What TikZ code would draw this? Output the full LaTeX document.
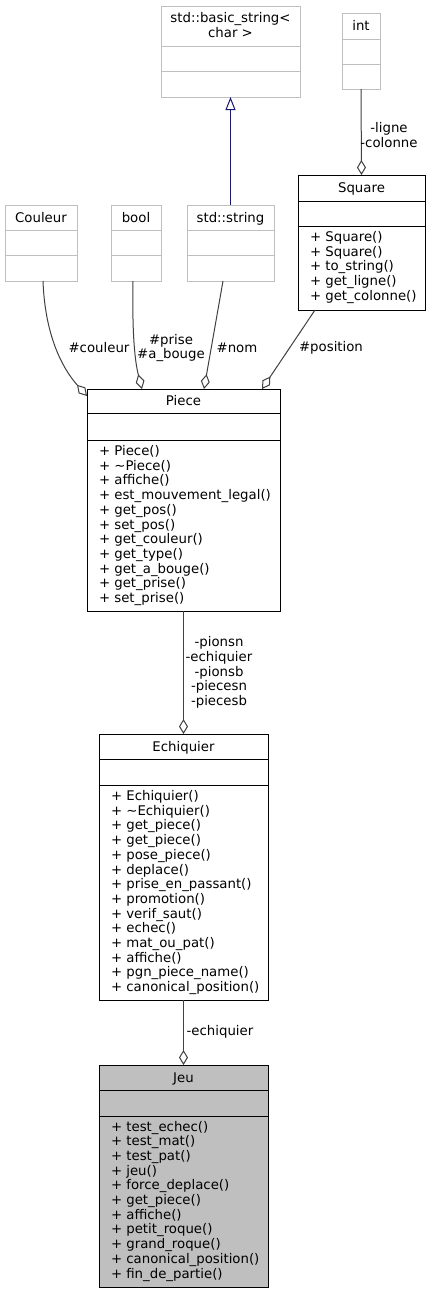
\documentclass[tikz,border=0pt]{standalone}
\usepackage{fontspec}
\setmainfont{DejaVu Sans}
\usetikzlibrary{arrows.meta,calc}
\definecolor{lgray}{HTML}{BFBFBF}
\definecolor{edgegray}{HTML}{404040}
\definecolor{mblue}{HTML}{191970}
\begin{document}
\begin{tikzpicture}[x=1pt,y=-1pt,
  txt/.style={font=\fontsize{13.3}{14.7}\selectfont, inner sep=0pt, outer sep=0pt},
  cls/.style={draw=black, line width=1pt, inner sep=0pt, outer sep=0pt, anchor=north west},
  ext/.style={draw=lgray, line width=1pt, inner sep=0pt, outer sep=0pt, anchor=north west},
  clsline/.style={draw=black, line width=1pt},
  extline/.style={draw=lgray, line width=1pt},
  agg/.style={draw=edgegray, line width=1pt, -{Diamond[length=15pt,width=9pt,fill=white]}},
  inh/.style={draw=mblue, line width=1pt, -{Triangle[length=13pt,width=10pt,fill=white]}},
]
\useasboundingbox (0,0) rectangle (430,1293);

% std::basic_string<char>
\node[ext, minimum width=139pt, minimum height=91pt] (bstr) at (161,6) {};
\draw[extline] (161,46) -- (300,46) (161,71) -- (300,71);
\node[txt, align=center] (bstrT) at (230.5,25) {std::basic\_string<\\char >};

% int
\node[ext, minimum width=38pt, minimum height=76pt] (int) at (342,13) {};
\draw[extline] (342,39) -- (380,39) (342,64) -- (380,64);
\node[txt, anchor=base] (intT) at (361,30.5) {int};

% Square
\node[cls, minimum width=127pt, minimum height=135pt] (square) at (298,175) {};
\draw[clsline] (298,201) -- (425,201) (298,226) -- (425,226);
\node[txt, anchor=base] (squareT) at (361.5,192.5) {Square};
\node[txt, anchor=base west] (squareO) at (310,241.5) {\begin{tabular}[t]{@{}l@{}}+ Square()\\+ Square()\\+ to\_string()\\+ get\_ligne()\\+ get\_colonne()\end{tabular}};

% Couleur
\node[ext, minimum width=72pt, minimum height=76pt] (couleur) at (5,205) {};
\draw[extline] (5,230) -- (77,230) (5,255) -- (77,255);
\node[txt, anchor=base] (couleurT) at (41,222) {Couleur};

% bool
\node[ext, minimum width=50pt, minimum height=76pt] (bool) at (111,205) {};
\draw[extline] (111,230) -- (161,230) (111,255) -- (161,255);
\node[txt, anchor=base] (boolT) at (136,222) {bool};

% std::string
\node[ext, minimum width=87pt, minimum height=76pt] (stdstr) at (187,205) {};
\draw[extline] (187,230) -- (274,230) (187,255) -- (274,255);
\node[txt, anchor=base] (stdstrT) at (230.5,222) {std::string};

% Piece
\node[cls, minimum width=193pt, minimum height=222pt] (piece) at (87,389) {};
\draw[clsline] (87,413) -- (280,413) (87,440) -- (280,440);
\node[txt, anchor=base] (pieceT) at (183.5,405.5) {Piece};
\node[txt, anchor=base west] (pieceO) at (99,455.5) {\begin{tabular}[t]{@{}l@{}}+ Piece()\\+ \textasciitilde Piece()\\+ affiche()\\+ est\_mouvement\_legal()\\+ get\_pos()\\+ set\_pos()\\+ get\_couleur()\\+ get\_type()\\+ get\_a\_bouge()\\+ get\_prise()\\+ set\_prise()\end{tabular}};

% Echiquier
\node[cls, minimum width=169pt, minimum height=266pt] (echiquier) at (99,734) {};
\draw[clsline] (99,759) -- (268,759) (99,785) -- (268,785);
\node[txt, anchor=base] (echiquierT) at (183.5,751) {Echiquier};
\node[txt, anchor=base west] (echiquierO) at (111,800.5) {\begin{tabular}[t]{@{}l@{}}+ Echiquier()\\+ \textasciitilde Echiquier()\\+ get\_piece()\\+ get\_piece()\\+ pose\_piece()\\+ deplace()\\+ prise\_en\_passant()\\+ promotion()\\+ verif\_saut()\\+ echec()\\+ mat\_ou\_pat()\\+ affiche()\\+ pgn\_piece\_name()\\+ canonical\_position()\end{tabular}};

% Jeu
\node[cls, fill=lgray, minimum width=169pt, minimum height=222pt] (jeu) at (99,1065) {};
\draw[clsline] (99,1090) -- (268,1090) (99,1116) -- (268,1116);
\node[txt, anchor=base] (jeuT) at (183.5,1082) {Jeu};
\node[txt, anchor=base west] (jeuO) at (111,1131) {\begin{tabular}[t]{@{}l@{}}+ test\_echec()\\+ test\_mat()\\+ test\_pat()\\+ jeu()\\+ force\_deplace()\\+ get\_piece()\\+ affiche()\\+ petit\_roque()\\+ grand\_roque()\\+ canonical\_position()\\+ fin\_de\_partie()\end{tabular}};

% connectors
\draw[inh] (stdstr.north) -- (bstr.south);
\draw[agg] (int.south) -- (square.north);
\node[txt, align=center] (lblint) at (389,135) {-ligne\\-colonne};

\draw[agg] ($(couleur.south west)+(38,0)$) .. controls (45,335) and (62,368) .. ($(piece.north west)+(0,7)$);
\node[txt] (lblcouleur) at (99,348) {\#couleur};

\draw[agg] ($(bool.south west)+(22,0)$) .. controls (132,335) and (135,362) .. ($(piece.north west)+(55,0)$);
\node[txt, align=center] (lblbool) at (171,348) {\#prise\\\#a\_bouge};

\draw[agg] ($(stdstr.south west)+(36,0)$) -- ($(piece.north west)+(117,0)$);
\node[txt] (lblnom) at (237,348) {\#nom};

\draw[agg] ($(square.south west)+(17,0)$) -- ($(piece.north west)+(175,0)$);
\node[txt] (lblpos) at (331,348) {\#position};

\draw[agg] (piece.south) -- (echiquier.north);
\node[txt, align=center] (lblpiece) at (219,672.5) {-pionsn\\-echiquier\\-pionsb\\-piecesn\\-piecesb};

\draw[agg] (echiquier.south) -- (jeu.north);
\node[txt] (lblech) at (220,1032) {-echiquier};
\end{tikzpicture}
\end{document}
